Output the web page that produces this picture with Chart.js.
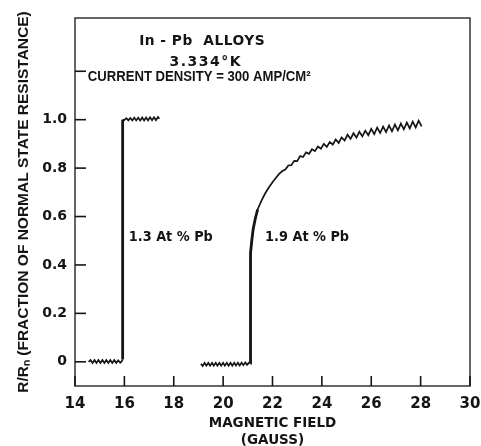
<!DOCTYPE html>
<html>
<head>
<meta charset="utf-8">
<script src="https://cdn.jsdelivr.net/npm/chart.js@4.4.1/dist/chart.umd.min.js"></script>
<style>
  html, body { margin: 0; padding: 0; background: #fff; }
  #wrap { width: 481px; height: 446px; }
</style>
</head>
<body>
<div id="wrap"><canvas id="chart" width="481" height="446"></canvas></div>
<script>
// 1.3 At % Pb trace
const pb13Field = [14.55, 14.63, 14.71, 14.79, 14.87, 14.95, 15.03, 15.11, 15.19, 15.27, 15.35, 15.43, 15.51, 15.59, 15.67, 15.75, 15.83, 15.90, 15.93,
  15.93, 16.00, 16.08, 16.16, 16.24, 16.32, 16.40, 16.48, 16.56, 16.64, 16.72, 16.80, 16.88, 16.96, 17.04, 17.12, 17.20, 17.28, 17.36, 17.42];
const pb13Resist = [0.000, 0.007, -0.005, 0.007, -0.005, 0.007, -0.005, 0.007, -0.005, 0.007, -0.005, 0.007, -0.005, 0.007, -0.005, 0.006, -0.004, 0.003, 0.010,
  1.000, 0.998, 1.006, 0.997, 1.007, 0.997, 1.008, 0.997, 1.008, 0.997, 1.009, 0.997, 1.009, 0.997, 1.010, 0.998, 1.010, 0.998, 1.011, 1.004];

// 1.9 At % Pb trace
const pb19Field = [19.10, 19.17, 19.25, 19.32, 19.40, 19.47, 19.55, 19.62, 19.70, 19.77, 19.85, 19.92, 20.00, 20.07, 20.15, 20.22, 20.30, 20.37, 20.45, 20.52, 20.60, 20.67, 20.75, 20.82, 20.90, 20.97, 21.05, 21.10,
  21.10, 21.12, 21.16, 21.22, 21.30, 21.40, 21.55, 21.70, 21.85, 22.00, 22.14, 22.27,
  22.40, 22.52, 22.64, 22.76, 22.88, 23.00, 23.12, 23.24, 23.36, 23.48, 23.60, 23.72, 23.84, 23.96, 24.08, 24.20, 24.32, 24.44, 24.56, 24.68, 24.80, 24.92,
  25.04, 25.16, 25.28, 25.40, 25.52, 25.64, 25.76, 25.88, 26.00, 26.12, 26.24, 26.36, 26.48, 26.60, 26.72, 26.84, 26.96, 27.08, 27.20, 27.32, 27.44, 27.56,
  27.68, 27.80, 27.92, 28.04];
const pb19Resist = [-0.008, -0.017, -0.004, -0.016, -0.004, -0.016, -0.004, -0.016, -0.004, -0.016, -0.004, -0.016, -0.004, -0.016, -0.004, -0.016, -0.004, -0.016, -0.004, -0.015, -0.004, -0.015, -0.004, -0.014, -0.003, -0.013, -0.004, -0.005,
  0.410, 0.450, 0.500, 0.550, 0.590, 0.630, 0.665, 0.695, 0.720, 0.742, 0.760, 0.776,
  0.788, 0.794, 0.811, 0.812, 0.830, 0.829, 0.850, 0.846, 0.865, 0.859, 0.878, 0.870, 0.889, 0.880, 0.900, 0.888, 0.908, 0.897, 0.918, 0.904, 0.927, 0.914,
  0.938, 0.921, 0.944, 0.926, 0.950, 0.931, 0.955, 0.936, 0.962, 0.940, 0.967, 0.945, 0.971, 0.949, 0.976, 0.952, 0.980, 0.956, 0.984, 0.960, 0.988, 0.964,
  0.992, 0.968, 0.996, 0.972];

const xTicks = [14, 16, 18, 20, 22, 24, 26, 28, 30];
const yTicks = [0, 0.2, 0.4, 0.6, 0.8, 1.0, 1.2];
const yTickLabels = ['0', '0.2', '0.4', '0.6', '0.8', '1.0', ''];

const notes = [
  { text: 'In - Pb  ALLOYS', x: 19.15, y: 1.324, align: 'center', maxW: 126, spacing: '0.5px', face: 'DejaVu Sans' },
  { text: '3.334°K', x: 19.3, y: 1.237, align: 'center', maxW: 80, spacing: '1.5px', face: 'DejaVu Sans' },
  { text: 'CURRENT DENSITY = 300 AMP/CM²', x: 19.03, y: 1.175, align: 'center', maxW: 223, spacing: '0px', face: 'Liberation Sans' },
  { text: '1.3 At % Pb', x: 16.18, y: 0.515, align: 'left', maxW: 84, spacing: '0px', face: 'DejaVu Sans' },
  { text: '1.9 At % Pb', x: 21.7, y: 0.515, align: 'left', maxW: 84, spacing: '0px', face: 'DejaVu Sans' }
];

function toPoints(xs, ys) {
  return xs.map((x, i) => ({ x: x, y: ys[i] }));
}

const ink = '#141414';

// steep parts of the trace (jumps) are drawn heavier than the wiggly recorder line
const traceWidth = c => (Math.abs(c.p1.y - c.p0.y) > 2 * Math.abs(c.p1.x - c.p0.x) + 4 ? 2.8 : 1.7);

// frame + inward tick marks + text notes
const framePlugin = {
  id: 'frame',
  afterDatasetsDraw(chart) {
    const { ctx, chartArea: a, scales } = chart;
    ctx.save();
    ctx.strokeStyle = '#333';
    ctx.lineWidth = 1.5;
    ctx.strokeRect(a.left, a.top, a.right - a.left, a.bottom - a.top);
    ctx.lineWidth = 1.6;
    ctx.strokeStyle = ink;
    xTicks.forEach(v => {
      const px = scales.x.getPixelForValue(v);
      ctx.beginPath();
      ctx.moveTo(px, a.bottom);
      ctx.lineTo(px, a.bottom - 10);
      ctx.stroke();
    });
    yTicks.forEach(v => {
      const py = scales.y.getPixelForValue(v);
      ctx.beginPath();
      ctx.moveTo(a.left, py);
      ctx.lineTo(a.left + 11, py);
      ctx.stroke();
    });
    ctx.fillStyle = ink;
    ctx.textBaseline = 'middle';
    notes.forEach(n => {
      ctx.font = 'bold 14px "' + n.face + '"';
      ctx.textAlign = n.align;
      ctx.letterSpacing = n.spacing;
      ctx.fillText(n.text, scales.x.getPixelForValue(n.x), scales.y.getPixelForValue(n.y), n.maxW);
    });
    ctx.restore();
  }
};

new Chart(document.getElementById('chart').getContext('2d'), {
  type: 'scatter',
  data: {
    datasets: [
      {
        label: '1.3 At % Pb',
        data: toPoints(pb13Field, pb13Resist),
        showLine: true,
        borderColor: ink,
        borderWidth: 2,
        segment: { borderWidth: traceWidth },
        pointRadius: 0,
        tension: 0
      },
      {
        label: '1.9 At % Pb',
        data: toPoints(pb19Field, pb19Resist),
        showLine: true,
        borderColor: ink,
        borderWidth: 2,
        segment: { borderWidth: traceWidth },
        pointRadius: 0,
        tension: 0
      }
    ]
  },
  options: {
    responsive: false,
    animation: false,
    layout: { padding: { left: 0, top: 18, right: 11, bottom: 0 } },
    plugins: {
      legend: { display: false },
      tooltip: { enabled: false }
    },
    scales: {
      x: {
        type: 'linear',
        min: 14,
        max: 30,
        afterBuildTicks: s => { s.ticks = xTicks.map(v => ({ value: v })); },
        afterFit: s => { s.height = 60; s.paddingRight = 0; s.paddingLeft = 0; },
        grid: { display: false, drawTicks: false },
        border: { display: false },
        ticks: {
          padding: 9,
          color: ink,
          font: { family: 'DejaVu Sans', weight: 'bold', size: 15 },
          maxRotation: 0
        },
        title: {
          display: true,
          text: ['MAGNETIC FIELD', '(GAUSS)'],
          color: ink,
          font: { family: 'DejaVu Sans', weight: 'bold', size: 13.5, lineHeight: 1.25 },
          padding: { top: 0, bottom: -3 }
        }
      },
      y: {
        type: 'linear',
        min: -0.1,
        max: 1.42,
        afterBuildTicks: s => { s.ticks = yTicks.map(v => ({ value: v })); },
        afterFit: s => { s.width = 75; s.paddingTop = 0; s.paddingBottom = 0; },
        grid: { display: false, drawTicks: false },
        border: { display: false },
        ticks: {
          padding: 8,
          color: ink,
          font: { family: 'DejaVu Sans', weight: 'bold', size: 14 },
          callback: (v, i) => yTickLabels[i]
        },
        title: {
          display: true,
          text: 'R/Rₙ (FRACTION OF NORMAL STATE RESISTANCE)',
          color: ink,
          font: { family: 'Liberation Sans', weight: 'bold', size: 15.5 },
          padding: { top: 14, bottom: 0 }
        }
      }
    }
  },
  plugins: [framePlugin]
});
</script>
</body>
</html>
